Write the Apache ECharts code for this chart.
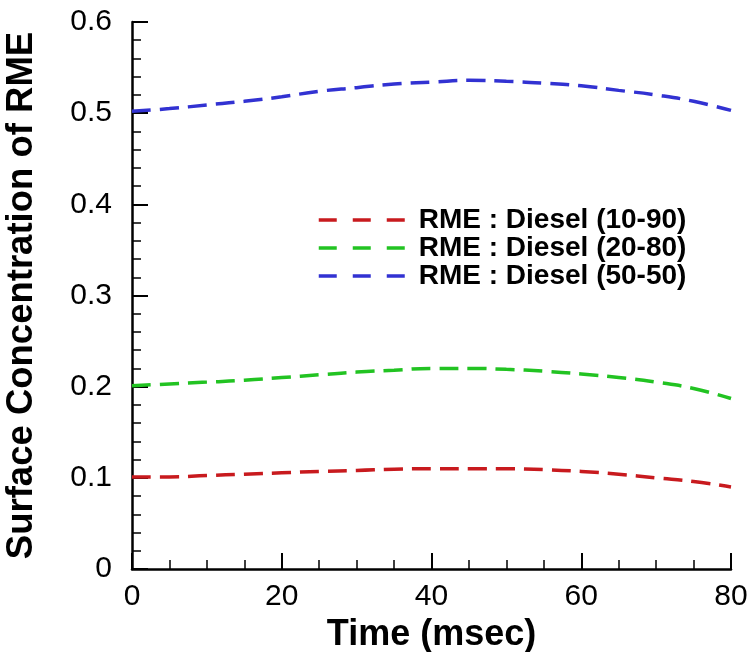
<!DOCTYPE html>
<html>
<head>
<meta charset="utf-8">
<script src="https://cdn.jsdelivr.net/npm/echarts@6/dist/echarts.min.js"></script>
<style>
  html, body { margin: 0; padding: 0; background: #fff; }
  #chart { width: 749px; height: 652px; }
</style>
</head>
<body>
<div id="chart"></div>
<script>
// time (msec)
var timeMs = [0, 5, 10, 15, 20, 25, 30, 35, 40, 45, 50, 55, 60, 65, 70, 75, 80];
// surface concentration of RME
var rme10 = [0.101, 0.101, 0.1025, 0.104, 0.1055, 0.107, 0.108, 0.1095, 0.110, 0.110, 0.110, 0.109, 0.107, 0.104, 0.100, 0.096, 0.090];
var rme20 = [0.201, 0.203, 0.205, 0.207, 0.210, 0.213, 0.216, 0.218, 0.220, 0.220, 0.219, 0.217, 0.214, 0.210, 0.205, 0.198, 0.187];
var rme50 = [0.502, 0.505, 0.509, 0.513, 0.518, 0.524, 0.528, 0.532, 0.534, 0.536, 0.535, 0.533, 0.530, 0.525, 0.520, 0.513, 0.503];
var seriesNames = ['RME : Diesel (10-90)', 'RME : Diesel (20-80)', 'RME : Diesel (50-50)'];
var seriesColors = ['#c81a1e', '#22c322', '#3232d2'];

function pairs(xs, ys) {
  return xs.map(function (x, i) { return [x, ys[i]]; });
}

var chart = echarts.init(document.getElementById('chart'));
var font = 'Liberation Sans, Arial, sans-serif';

var lineSeries = [rme10, rme20, rme50].map(function (vals, i) {
  return {
    name: seriesNames[i],
    type: 'line',
    data: pairs(timeMs, vals),
    smooth: true,
    symbol: 'none',
    lineStyle: { color: seriesColors[i], width: 3.5, type: [19, 9] },
    itemStyle: { color: seriesColors[i] }
  };
});

var option = {
  animation: false,
  backgroundColor: '#fff',
  grid: { left: 132, right: 18, top: 22, bottom: 83, outerBoundsMode: 'none', containLabel: false },
  legend: {
    left: 312,
    top: 201,
    orient: 'vertical',
    itemWidth: 86,
    itemHeight: 14,
    itemGap: 0,
    data: seriesNames,
    itemStyle: { opacity: 0 },
    lineStyle: { width: 3.5, type: [18, 16] },
    textStyle: {
      fontFamily: font, fontWeight: 'bold', fontSize: 28, color: '#000',
      padding: [0, 0, 0, 9]
    }
  },
  xAxis: {
    type: 'value',
    min: 0, max: 80, interval: 20,
    name: 'Time (msec)',
    nameLocation: 'middle',
    nameGap: 45,
    nameTextStyle: { fontFamily: font, fontWeight: 'bold', fontSize: 36, color: '#000' },
    axisLine: { lineStyle: { color: '#000', width: 2.5 } },
    axisTick: { inside: true, length: 16, lineStyle: { color: '#000', width: 2 } },
    minorTick: { show: true, splitNumber: 4, length: 9, lineStyle: { color: '#000', width: 1.5 } },
    axisLabel: { fontFamily: font, fontSize: 30, color: '#000', margin: 13 },
    splitLine: { show: false }
  },
  yAxis: {
    type: 'value',
    min: 0, max: 0.6, interval: 0.1,
    name: 'Surface Concentration of RME',
    nameLocation: 'middle',
    nameGap: 92,
    nameTextStyle: { fontFamily: font, fontWeight: 'bold', fontSize: 36.5, color: '#000' },
    axisLine: { show: true, lineStyle: { color: '#000', width: 2.5 } },
    axisTick: { show: true, inside: true, length: 16, lineStyle: { color: '#000', width: 2 } },
    minorTick: { show: true, splitNumber: 5, length: 9, lineStyle: { color: '#000', width: 1.5 } },
    axisLabel: {
      fontFamily: font, fontSize: 30, color: '#000', margin: 20,
      formatter: function (v) { return v === 0 ? '0' : v.toFixed(1); }
    },
    splitLine: { show: false }
  },
  series: lineSeries
};

chart.setOption(option);
</script>
</body>
</html>
